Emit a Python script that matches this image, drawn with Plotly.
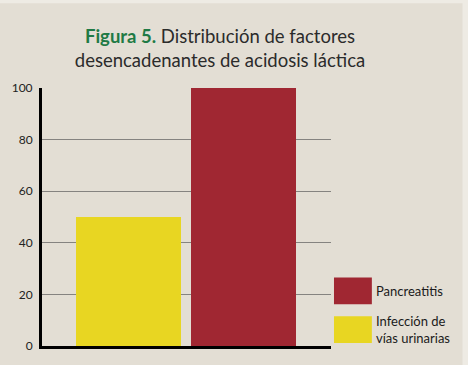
import plotly.graph_objects as go

# ---- data ----
series_names = ["Infección de<br>vías urinarias", "Pancreatitis"]
series_values = [50, 100]
series_x = [1, 2]
series_colors = ["#e8d622", "#a02732"]
y_ticks = [0, 20, 40, 60, 80, 100]

W, H = 468, 365
L, R, T, B = 41, 137, 88, 17
plot_w = W - L - R
plot_h = H - T - B

def px_x(px):
    return (px - L) / plot_w

def px_y(py):
    return (H - B - py) / plot_h

BG = "#e3ded4"
fig = go.Figure()
for name, val, xv, col in zip(series_names, series_values, series_x, series_colors):
    fig.add_trace(go.Bar(x=[xv], y=[val], name=name, marker=dict(color=col, line=dict(width=0)),
                         width=0.905, showlegend=False))

shapes = [
    # light border on top and right edges
    dict(type="rect", xref="paper", yref="paper", x0=px_x(-5), x1=px_x(W + 5), y0=px_y(2.5), y1=px_y(-5),
         fillcolor="#eeebe4", line=dict(width=0), layer="below"),
    dict(type="rect", xref="paper", yref="paper", x0=px_x(463), x1=px_x(W + 5), y0=px_y(H + 5), y1=px_y(-5),
         fillcolor="#eeebe4", line=dict(width=0), layer="below"),
]
annotations = []
# manual legend: Pancreatitis on top
legend_rows = [(1, 279, 306, 293), (0, 318, 345, 331)]
for idx, y0, y1, ty in legend_rows:
    shapes.append(dict(type="rect", xref="paper", yref="paper", x0=px_x(334), x1=px_x(372),
                       y0=px_y(y1), y1=px_y(y0), fillcolor=series_colors[idx], line=dict(width=0)))
    annotations.append(dict(xref="paper", yref="paper", x=px_x(374), y=px_y(ty), xanchor="left",
                            yanchor="middle", text=series_names[idx], showarrow=False, align="left",
                            font=dict(family="Lato", size=13, color="#1a1a1a")))

fig.update_layout(
    width=W, height=H,
    margin=dict(l=L, r=R, t=T, b=B, pad=0),
    paper_bgcolor=BG, plot_bgcolor=BG,
    title=dict(text="<b><span style='color:#1f7a45'>Figura 5.</span></b> Distribución de factores<br>desencadenantes de acidosis láctica",
               x=220 / W, xanchor="center", y=1 - 43 / H, yanchor="middle",
               font=dict(family="Lato", size=18.5, color="#2b2b2b")),
    xaxis=dict(range=[1 - 86.5 / 116, 2 + 87.5 / 116], showticklabels=False, showgrid=False,
               zeroline=False, showline=True, linecolor="black", linewidth=3, ticks=""),
    yaxis=dict(range=[0, 100], tickvals=y_ticks, showgrid=True, gridcolor="#858380", gridwidth=1,
               zeroline=False, showline=True, linecolor="black", linewidth=3,
               ticks="", ticklabelstandoff=4,
               tickfont=dict(family="Lato", size=12, color="#222")),
    shapes=shapes, annotations=annotations,
    bargap=0,
)
fig.write_html("out.html", config={"displayModeBar": False},
               post_script="document.body.style.margin='0';")
